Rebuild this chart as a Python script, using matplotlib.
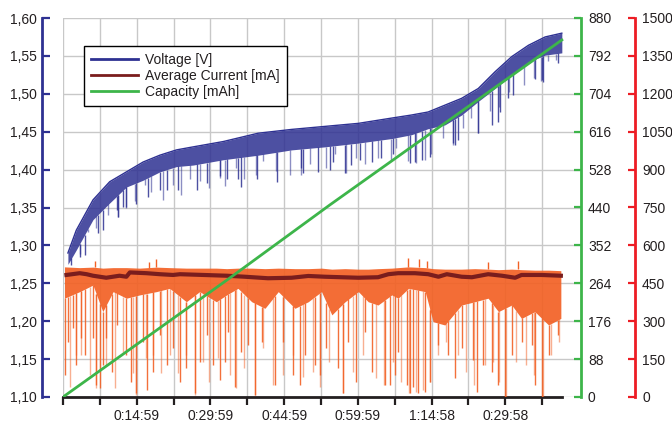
import matplotlib
matplotlib.use("Agg")
import matplotlib.pyplot as plt
import numpy as np
from matplotlib.lines import Line2D

plt.rcParams["font.family"] = ["Liberation Sans", "DejaVu Sans"]

# time axis in minutes
x_ticks = [0, 7.5, 15, 22.5, 30, 37.5, 45, 52.5, 60, 67.5, 75, 82.5, 90, 97.5]
x_labels = ["", "", "0:14:59", "", "0:29:59", "", "0:44:59", "", "0:59:59", "", "1:14:58", "", "0:29:58", ""]

volt_ticks = [1.10, 1.15, 1.20, 1.25, 1.30, 1.35, 1.40, 1.45, 1.50, 1.55, 1.60]
volt_labels = ["1,10", "1,15", "1,20", "1,25", "1,30", "1,35", "1,40", "1,45", "1,50", "1,55", "1,60"]
cap_ticks = [0, 88, 176, 264, 352, 440, 528, 616, 704, 792, 880]
cur_ticks = [0, 150, 300, 450, 600, 750, 900, 1050, 1200, 1350, 1500]

# voltage band (upper edge / dense lower edge)
volt_t = [1.0, 2.7, 6.1, 9.5, 12.9, 16.3, 19.7, 23.1, 26.5, 32.6, 39.7, 46.5, 53.3,
          60.1, 66.9, 70.9, 74.3, 77.7, 81.1, 84.5, 87.9, 91.3, 94.7, 98.1, 101.5]
volt_hi = [1.290, 1.320, 1.360, 1.384, 1.397, 1.410, 1.419, 1.426, 1.430, 1.437, 1.448,
           1.453, 1.457, 1.461, 1.468, 1.472, 1.476, 1.485, 1.494, 1.507, 1.529, 1.549,
           1.564, 1.575, 1.580]
volt_lo = [1.275, 1.294, 1.334, 1.356, 1.377, 1.386, 1.397, 1.404, 1.406, 1.413, 1.419,
           1.426, 1.430, 1.435, 1.441, 1.446, 1.454, 1.459, 1.472, 1.490, 1.507, 1.525,
           1.542, 1.551, 1.554]
# deep voltage dips
vdip_t = [1.7, 3.4, 4.4, 7.1, 8.1, 10.9, 11.2, 12.2, 12.9, 14.9, 17.3, 19.7, 21.1, 23.4,
          27.2, 29.2, 31.9, 33.3, 35.6, 36.3, 39.4, 43.5, 48.5, 48.8, 51.9, 54.3, 55.0,
          57.4, 58.7, 60.4, 62.8, 64.8, 67.2, 70.6, 71.6, 73.0, 74.7, 79.4, 79.8, 80.4,
          84.5, 87.2, 88.6, 88.9, 90.6, 91.6, 96.0, 97.4, 97.7, 100.8]
vdip_v = [1.274, 1.285, 1.287, 1.316, 1.320, 1.347, 1.338, 1.351, 1.351, 1.355, 1.364,
          1.373, 1.373, 1.373, 1.373, 1.382, 1.391, 1.388, 1.388, 1.377, 1.388, 1.384,
          1.402, 1.395, 1.397, 1.399, 1.410, 1.395, 1.406, 1.413, 1.410, 1.415, 1.421,
          1.409, 1.410, 1.413, 1.417, 1.435, 1.432, 1.439, 1.448, 1.459, 1.463, 1.476,
          1.494, 1.498, 1.520, 1.518, 1.516, 1.540]
# lighter voltage dips
vdip2_t = [3.4, 5.1, 6.8, 9.2, 11.2, 12.9, 14.6, 16.6, 18.0, 20.3, 22.4, 24.1, 25.8,
           27.8, 29.8, 31.9, 32.9, 35.3, 36.9, 39.3, 40.7, 43.4, 46.1, 48.5, 50.2,
           53.6, 55.3, 57.6, 59.7, 61.4, 64.1, 66.8, 67.8, 70.2, 71.9, 73.6, 74.9,
           77.3, 79.3, 81.4, 83.1, 84.4, 86.8, 88.8, 90.8, 93.9, 95.9, 97.3, 98.6, 100.3]
vdip2_v = [1.288, 1.318, 1.323, 1.340, 1.338, 1.349, 1.358, 1.380, 1.371, 1.360, 1.380,
           1.367, 1.387, 1.385, 1.376, 1.389, 1.378, 1.402, 1.387, 1.393, 1.411, 1.398,
           1.393, 1.393, 1.407, 1.402, 1.420, 1.396, 1.415, 1.407, 1.415, 1.413, 1.428,
           1.411, 1.409, 1.413, 1.420, 1.442, 1.433, 1.455, 1.468, 1.448, 1.477, 1.483,
           1.503, 1.512, 1.521, 1.517, 1.543, 1.545]

# current band (mA)
cur_t = [0.3, 3.4, 6.1, 8.1, 10.2, 12.9, 15.6, 19.0, 21.7, 25.1, 27.8, 31.2, 33.3, 35.6,
         38.4, 41.1, 43.8, 47.2, 49.9, 52.6, 54.7, 57.4, 60.1, 62.1, 64.1, 66.9, 68.2,
         70.3, 73.7, 75.3, 77.7, 81.1, 83.8, 86.5, 88.6, 91.3, 93.3, 96.0, 98.8, 101.3]
cur_hi = [515, 512, 514, 510, 512, 512, 510, 514, 512, 510, 510, 510, 508, 510,
          510, 508, 510, 508, 508, 510, 506, 508, 506, 506, 508, 510, 512,
          515, 512, 508, 506, 506, 508, 506, 504, 506, 504, 502, 502, 500]
cur_lo = [391, 417, 443, 338, 417, 391, 404, 417, 430, 377, 417, 377, 404, 430,
          377, 351, 417, 351, 377, 417, 325, 377, 417, 377, 364, 404, 391,
          430, 417, 298, 285, 364, 377, 391, 338, 364, 311, 338, 285, 311]
# current dips
cdip_t = [0.35, 1.0, 2.0, 2.7, 3.7, 4.4, 6.1, 6.8, 7.5, 8.1, 8.8, 9.9, 10.9, 12.9, 13.9,
          14.9, 16.3, 17.0, 18.3, 19.7, 21.1, 22.4, 23.8, 25.1, 26.8, 27.8, 29.2, 30.5,
          31.9, 32.9, 33.6, 35.0, 36.3, 37.7, 39.0, 40.4, 43.1, 44.8, 46.8, 48.2, 49.2,
          51.3, 52.3, 53.6, 56.0, 57.0, 58.0, 59.7, 61.4, 62.8, 65.5, 66.5, 67.5, 68.2,
          69.9, 70.6, 71.3, 72.3, 73.7, 74.7, 76.4, 78.4, 79.8, 81.1, 83.5, 84.2, 85.5,
          87.2, 88.6, 89.9, 91.3, 93.3, 95.4, 96.0, 97.4, 98.8, 100.8]
cdip_v = [87, 219, 272, 127, 232, 166, 232, 47, 34, 127, 232, 100, 285, 166, 61,
          15, 219, 28, 100, 245, 127, 193, 61, 113, 15, 140, 245, 127,
          67, 140, 259, 41, 179, 206, 8, 219, 47, 219, 87, 47, 166,
          127, 87, 193, 113, 15, 219, 61, 259, 100, 47, 47, 87, 179,
          47, 15, 41, 15, 21, 61, 206, 166, 74, 193, 146, 21, 127,
          100, 47, 0, 166, 219, 206, 47, 0, 166, 245]
# lighter current dips
cdip2_t = [1.4, 2.7, 3.7, 5.4, 6.8, 8.8, 10.5, 12.2, 14.2, 14.9, 16.9, 18.3, 20.0, 21.7,
           23.4, 25.1, 26.8, 28.5, 29.8, 31.5, 33.9, 35.3, 36.9, 39.0, 40.7, 42.7, 44.7,
           46.8, 48.8, 50.8, 52.2, 54.2, 56.9, 59.0, 61.0, 63.7, 65.4, 67.1, 68.8, 70.5,
           71.9, 73.2, 74.6, 76.3, 78.0, 80.3, 82.0, 83.7, 85.8, 87.5, 88.8, 90.2, 92.2,
           94.2, 95.9, 97.6, 99.3, 101.0]
cdip2_v = [41, 166, 166, 87, 34, 127, 34, 179, 94, 8, 153, 166, 94, 166,
           94, 166, 8, 140, 61, 153, 87, 34, 113, 8, 193, 47, 87,
           166, 80, 100, 41, 140, 15, 100, 166, 74, 47, 140, 61, 15,
           21, 28, 61, 166, 219, 166, 100, 47, 127, 140, 61, 0, 140,
           127, 87, 0, 166, 219]
# current peaks above the band
cpeak_t = [6.5, 17.5, 19.0, 70.3, 72.5, 74.0, 86.5, 92.5]
cpeak_v = [540, 535, 545, 550, 545, 540, 535, 538]

avg_t = [0.7, 3.4, 4.8, 6.1, 8.8, 11.5, 12.9, 13.6, 17.0, 19.7, 22.4, 23.8, 33.3, 37.0,
         41.7, 46.5, 49.9, 53.3, 60.1, 64.1, 66.2, 68.2, 71.6, 74.3, 76.4, 78.1, 81.1,
         83.2, 86.5, 89.3, 92.0, 93.3, 97.4, 101.3]
avg_v = [483, 490, 486, 480, 472, 480, 476, 493, 490, 486, 483, 486, 480, 476,
         470, 472, 479, 476, 472, 474, 486, 490, 490, 486, 476, 486, 476,
         474, 486, 480, 472, 483, 483, 480]

cap_t = [0, 33.9, 54.3, 101.5]
cap_v = [0, 276, 446, 829]

BLUE = "#2e3192"
ORANGE = "#f26125"
DARKRED = "#7a1d1d"
GREEN = "#3db54a"
RED = "#ed1c24"
TXT = "#231f20"

fig = plt.figure(figsize=(6.72, 4.22), dpi=100)
ax = fig.add_axes([63 / 672, 25 / 422, 518 / 672, 379 / 422])
ax_cur = ax.twinx()
ax_cap = ax.twinx()

# voltage
ax.fill_between(volt_t, volt_lo, volt_hi, color=BLUE, alpha=0.85, lw=0)
ax.plot(volt_t, volt_hi, color=BLUE, lw=1)
ax.vlines(vdip2_t, vdip2_v, np.interp(vdip2_t, volt_t, volt_lo), color=BLUE, lw=1, alpha=0.55)
ax.vlines(vdip_t, vdip_v, np.interp(vdip_t, volt_t, volt_lo), color=BLUE, lw=1, alpha=0.85)
ax.set_xlim(0, 105.4)
ax.set_ylim(1.10, 1.60)
ax.set_xticks(x_ticks)
ax.set_xticklabels(x_labels)
ax.set_yticks(volt_ticks)
ax.set_yticklabels(volt_labels)
ax.grid(True, color="#c8c8c8", lw=1)
ax.set_axisbelow(True)

# current
ax_cur.fill_between(cur_t, cur_lo, cur_hi, color=ORANGE, alpha=0.92, lw=0)
ax_cur.vlines(cdip2_t, cdip2_v, np.interp(cdip2_t, cur_t, cur_lo), color=ORANGE, lw=1, alpha=0.5)
ax_cur.vlines(cdip_t, cdip_v, np.interp(cdip_t, cur_t, cur_lo), color=ORANGE, lw=1, alpha=0.9)
ax_cur.vlines(cpeak_t, np.interp(cpeak_t, cur_t, cur_hi), cpeak_v, color=ORANGE, lw=1)
ax_cur.plot(avg_t, avg_v, color=DARKRED, lw=3)
ax_cur.set_ylim(0, 1500)
ax_cur.set_yticks(cur_ticks)

# capacity
ax_cap.plot(cap_t, cap_v, color=GREEN, lw=2)
ax_cap.set_ylim(0, 880)
ax_cap.set_yticks(cap_ticks)

# spines
for a in (ax, ax_cur, ax_cap):
    a.spines["top"].set_visible(False)
for a in (ax_cur, ax_cap):
    a.spines["left"].set_visible(False)
    a.spines["bottom"].set_visible(False)
ax.spines["right"].set_visible(False)
ax.spines["left"].set_position(("outward", 15))
ax.spines["left"].set_color(BLUE)
ax.spines["left"].set_linewidth(2)
ax.spines["bottom"].set_color(TXT)
ax.spines["bottom"].set_linewidth(2)
ax.spines["bottom"].set_bounds(0, 101.5)
ax_cap.spines["right"].set_color(GREEN)
ax_cap.spines["right"].set_linewidth(2)
ax_cur.spines["right"].set_position(("outward", 39))
ax_cur.spines["right"].set_color(RED)
ax_cur.spines["right"].set_linewidth(2)

ax.tick_params(axis="x", direction="out", length=6, width=1.6, color=TXT,
               labelsize=10, labelcolor=TXT, pad=3)
ax.tick_params(axis="y", direction="in", length=6, width=1.6, color=BLUE,
               labelsize=10, labelcolor=TXT, pad=4)
ax_cap.tick_params(axis="y", direction="in", length=5, width=1.6, color=GREEN,
                   labelsize=10, labelcolor=TXT, pad=5)
ax_cur.tick_params(axis="y", direction="in", length=5, width=1.6, color=RED,
                   labelsize=10, labelcolor=TXT, pad=5)

handles = [
    Line2D([], [], color=BLUE, lw=2),
    Line2D([], [], color=DARKRED, lw=2),
    Line2D([], [], color=GREEN, lw=2),
]
leg = ax_cap.legend(handles, ["Voltage [V]", "Average Current [mA]", "Capacity [mAh]"],
                    loc="upper left", bbox_to_anchor=(0.0405, 0.926), borderaxespad=0,
                    fontsize=10, fancybox=False, framealpha=1, edgecolor="black",
                    handlelength=3.4, handletextpad=0.5, labelspacing=0.15, borderpad=0.5)
leg.get_frame().set_linewidth(1)
for t in leg.get_texts():
    t.set_color(TXT)

fig.savefig("out.png", dpi=100)
